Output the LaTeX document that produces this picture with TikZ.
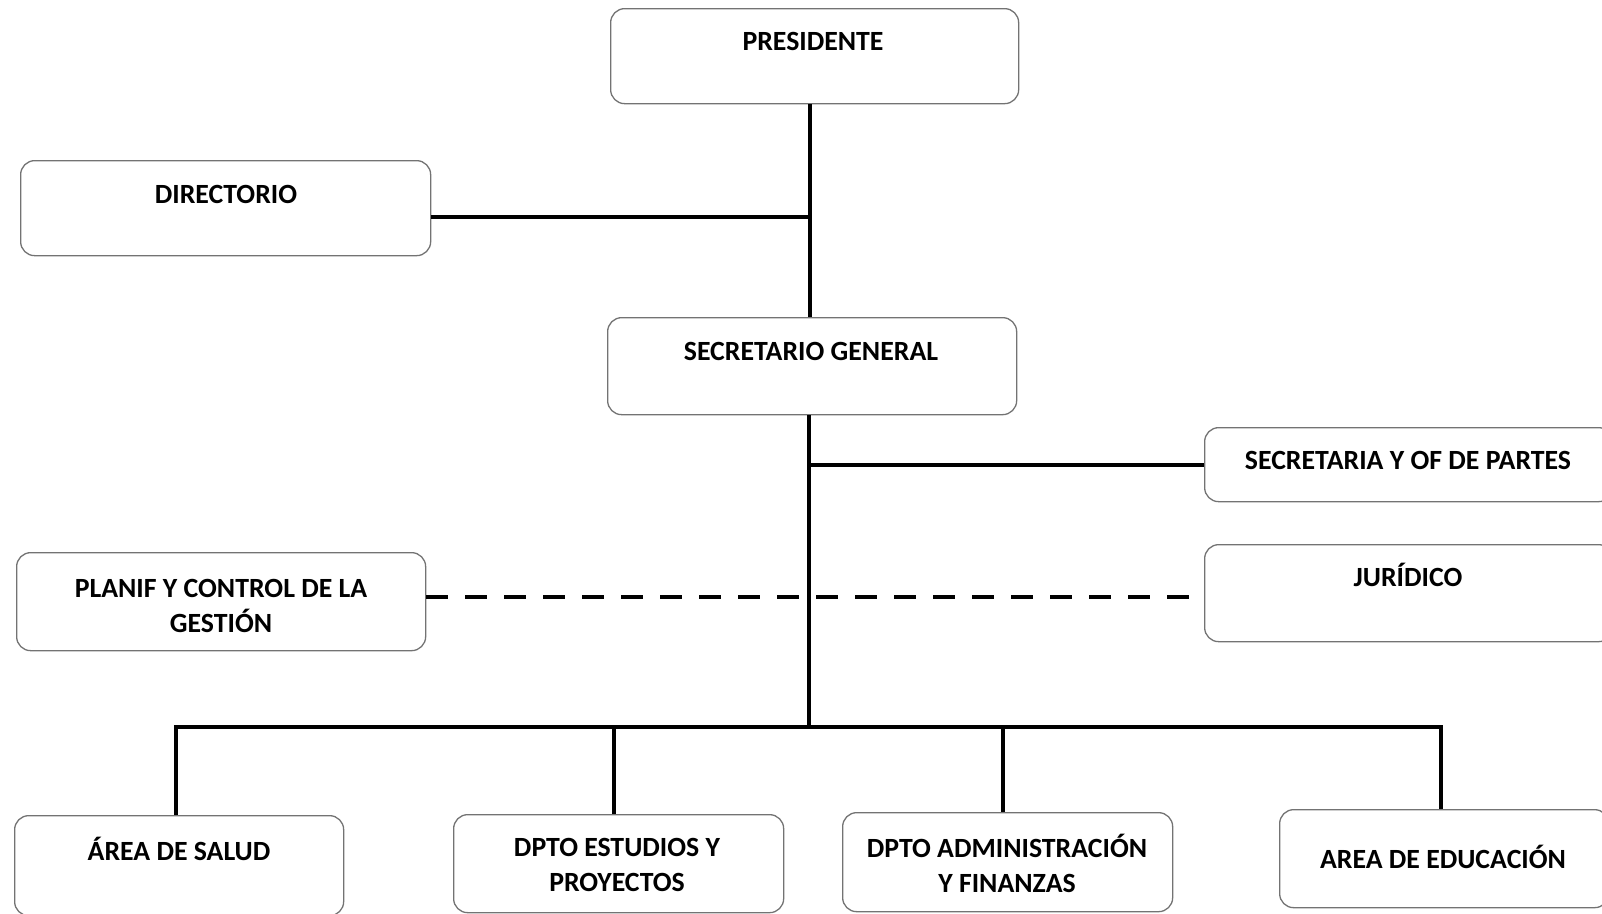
\documentclass[tikz,border=0pt]{standalone}
\usepackage{fontspec}
\setmainfont{Carlito}
\begin{document}
\begin{tikzpicture}[x=1pt,y=-1pt,
  box/.style={draw=black!55, line width=1.3pt, rounded corners=14pt, anchor=north west, inner sep=0pt},
  lbl/.style={font=\bfseries\fontsize{27.8}{35}\selectfont, align=center, inner sep=0pt, text height=18pt, text depth=0pt},
  lbl2/.style={font=\bfseries\fontsize{27.8}{35}\selectfont, align=center, inner sep=0pt},
  conn/.style={line width=4.5pt},
  dconn/.style={line width=4.5pt, dash pattern=on 22pt off 17pt}]
\useasboundingbox (0,0) rectangle (1602,913);
\clip (0,0) rectangle (1602,913);
% boxes
\node[box, minimum width=408pt, minimum height=95pt] (pres) at (610,8) {};
\node[box, minimum width=410pt, minimum height=95pt] (dir) at (20,160) {};
\node[box, minimum width=409pt, minimum height=97pt] (sec) at (607,317) {};
\node[box, minimum width=408pt, minimum height=74pt] (ofp) at (1204,427) {};
\node[box, minimum width=408pt, minimum height=97pt] (jur) at (1204,544) {};
\node[box, minimum width=409pt, minimum height=98pt] (plan) at (16,552) {};
\node[box, minimum width=329pt, minimum height=100pt] (sal) at (14,815) {};
\node[box, minimum width=330pt, minimum height=98pt] (est) at (453,814) {};
\node[box, minimum width=330pt, minimum height=99pt] (adm) at (842,812) {};
\node[box, minimum width=329pt, minimum height=98pt] (edu) at (1279,809) {};
% texts
\node[lbl] (presT) at (813,41) {PRESIDENTE};
\node[lbl] (dirT) at (226,194) {DIRECTORIO};
\node[lbl] (secT) at (811,351) {SECRETARIO GENERAL};
\node[lbl] (ofpT) at (1408,460) {SECRETARIA Y OF DE PARTES};
\node[lbl] (jurT) at (1408,577) {JURÍDICO};
\node[lbl2] (planT) at (221,606) {PLANIF Y CONTROL DE LA\\GESTIÓN};
\node[lbl] (salT) at (179,851) {ÁREA DE SALUD};
\node[lbl2] (estT) at (617,865) {DPTO ESTUDIOS Y\\PROYECTOS};
\node[lbl2] (admT) at (1007,863) {DPTO ADMINISTRACIÓN\\Y FINANZAS};
\node[lbl] (eduT) at (1443,859) {AREA DE EDUCACIÓN};
% junctions
\coordinate (jdir) at (810,217);
\coordinate (jofp) at (809,465);
\coordinate (bus) at (809,727);
\coordinate (busL) at (176,727);
\coordinate (busR) at (1441,727);
% connectors
\draw[conn] (pres.south -| jdir) -- (sec.north -| jdir);
\draw[conn] (dir.east |- jdir) -- (jdir);
\draw[conn] (sec.south -| bus) -- (bus);
\draw[conn] (jofp) -- (ofp.west |- jofp);
\draw[dconn] (plan.east |- 0,597) -- (jur.west |- 0,597);
\draw[conn] ([xshift=-2.25pt]busL) -- ([xshift=2.25pt]busR);
\draw[conn] (busL) -- (sal.north -| busL);
\draw[conn] (614,727) -- (est.north -| 614,0);
\draw[conn] (1003,727) -- (adm.north -| 1003,0);
\draw[conn] (busR) -- (edu.north -| busR);
\end{tikzpicture}
\end{document}
